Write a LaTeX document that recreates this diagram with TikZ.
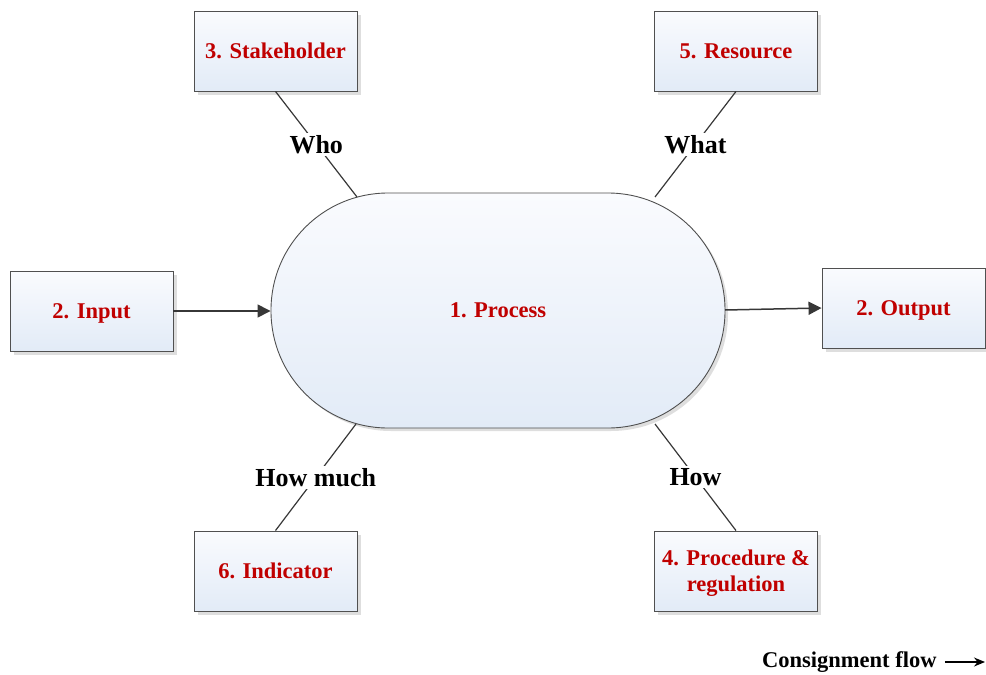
\documentclass[tikz,border=0pt]{standalone}
\usepackage{fontspec}
\setmainfont{Liberation Serif}
\usetikzlibrary{arrows.meta,shadows}

\definecolor{boxtop}{RGB}{250,251,254}
\definecolor{boxbot}{RGB}{226,235,247}
\definecolor{edge}{RGB}{80,80,80}
\definecolor{linkcol}{RGB}{55,55,55}
\definecolor{itemred}{RGB}{192,0,0}
\definecolor{shade}{RGB}{222,222,222}

\tikzset{
  itembox/.style={draw=edge, line width=0.9pt, top color=boxtop, bottom color=boxbot,
    minimum width=163pt, minimum height=80pt, align=center, text=itemred,
    text height=16pt, text depth=1.5pt,
    font=\fontsize{22.5}{26}\selectfont\bfseries,
    drop shadow={shadow xshift=3.5pt, shadow yshift=-3.5pt, fill=shade, opacity=1}},
  processbox/.style={draw=edge, line width=0.9pt, top color=boxtop, bottom color=boxbot,
    rectangle, rounded corners=117pt, minimum width=454pt, minimum height=235pt,
    text=itemred, text height=16pt, text depth=1.5pt,
    font=\fontsize{22.5}{26}\selectfont\bfseries,
    drop shadow={shadow xshift=3pt, shadow yshift=-3pt, fill=shade, opacity=1}},
  link/.style={draw=linkcol, line width=1.2pt},
  flowarrow/.style={draw=linkcol, line width=1.5pt, -{Triangle[length=13pt,width=13pt]}},
  qlabel/.style={fill=white, inner sep=2.5pt, font=\fontsize{26}{30}\selectfont\bfseries},
}

\begin{document}
\begin{tikzpicture}[x=1pt, y=-1pt]
  \useasboundingbox (0,0) rectangle (986,675);

  % central process
  \node[processbox] (process) at (498,310.5) {1. Process};

  % surrounding items
  \node[itembox] (stake) at (275.5,51)  {3. Stakeholder};
  \node[itembox] (res)   at (736,51)    {5. Resource};
  \node[itembox] (input) at (91.5,311)  {2. Input};
  \node[itembox] (output) at (903.5,308) {2. Output};
  \node[itembox] (ind)   at (275.5,571) {6. Indicator};
  \node[itembox, text height=42pt] (proc) at (736,571) {4. Procedure \&\\regulation};

  % points on the process outline where the questions attach
  \coordinate (pTL) at (357,197);
  \coordinate (pTR) at (655,197);
  \coordinate (pBL) at (356,424);
  \coordinate (pBR) at (655,424);
  \coordinate (pR)  at (725,310);

  % flow through the process
  \draw[flowarrow] (input.east) -- (input.east -| process.west);
  \draw[flowarrow] (pR) -- (output.west);

  % question links
  \draw[link] (stake.south) -- node[qlabel] {Who} (pTL);
  \draw[link] (res.south) -- node[qlabel] {What} (pTR);
  \draw[link] (pBL) -- node[qlabel] {How much} (ind.north);
  \draw[link] (pBR) -- node[qlabel] {How} (proc.north);

  % legend
  \node[anchor=west, inner sep=0pt, font=\fontsize{22.5}{26}\selectfont\bfseries] (flow) at (762,662) {Consignment flow};
  \coordinate (flowend) at (985,662);
  \draw[draw=black, line width=1.3pt, -{Stealth[length=11pt,width=9pt]}] ([xshift=8pt]flow.east) -- (flowend);
\end{tikzpicture}
\end{document}
